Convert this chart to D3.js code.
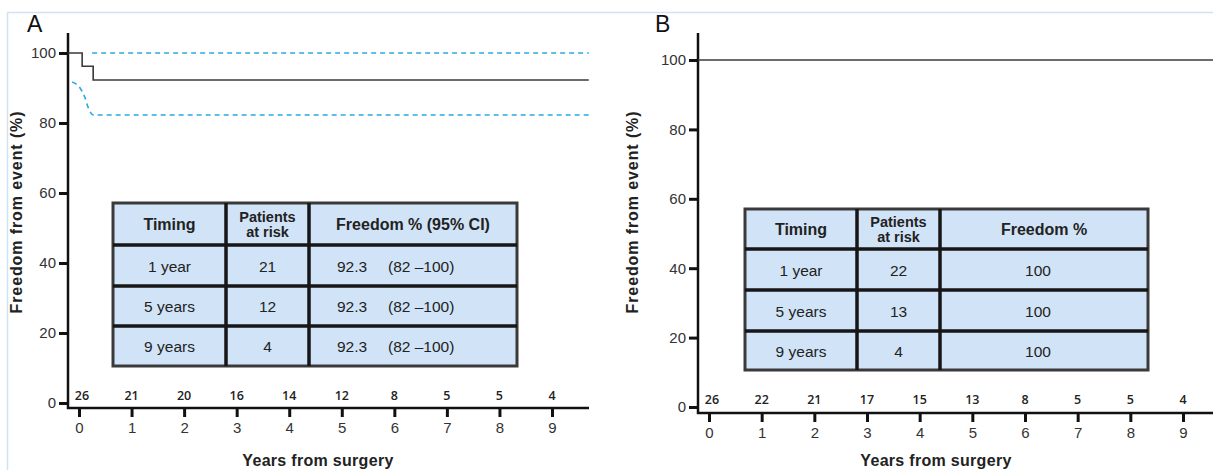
<!DOCTYPE html>
<html lang="en">
<head>
<meta charset="UTF-8">
<title>Freedom from event</title>
<script src="https://cdn.jsdelivr.net/npm/d3@7/dist/d3.min.js"></script>
<style>
    body { margin: 0; background: #fff; }
    svg { display: block; font-family: "Liberation Sans", Arial, sans-serif; }
    .tick text { fill: #333; font-size: 15px; }
    .risk { font-family: "Open Sans", sans-serif; font-size: 12.5px; font-weight: 600; fill: #222; }
    .ttl { font-weight: bold; font-size: 16px; fill: #222; }
    .cell { font-size: 15.5px; fill: #222; }
    .head { font-size: 16px; font-weight: bold; fill: #222; }
    .head2 { font-size: 14.5px; font-weight: bold; fill: #222; }
</style>
</head>
<body>
<svg id="chart" width="1213" height="470"></svg>
<script>
// ---- data ----
const years = [0, 1, 2, 3, 4, 5, 6, 7, 8, 9]
const yTicks = [0, 20, 40, 60, 80, 100]
const atRiskA = [26, 21, 20, 16, 14, 12, 8, 5, 5, 4]
const atRiskB = [26, 22, 21, 17, 15, 13, 8, 5, 5, 4]

// panel A: Kaplan-Meier estimate and 95% CI
const kmA = [[-0.21, 100], [0.06, 96.2], [0.27, 92.3], [9.7, 92.3]]
const upperA = [[0.25, 100], [9.7, 100]]
const lowerA = [[-0.13, 91.7], [0.02, 90], [0.11, 87.4], [0.17, 84.6], [0.27, 82.3], [9.7, 82.3]]
// panel B
const kmB = [[-0.21, 100], [9.8, 100]]

const headA = [["Timing"], ["Patients", "at risk"], ["Freedom % (95% CI)"]]
const headB = [["Timing"], ["Patients", "at risk"], ["Freedom %"]]
const timing = ["1 year", "5 years", "9 years"]
const riskTabA = [21, 12, 4]
const freeA = ["92.3", "92.3", "92.3"]
const ciA = ["(82 \u2013100)", "(82 \u2013100)", "(82 \u2013100)"]
const riskTabB = [22, 13, 4]
const freeB = ["100", "100", "100"]

const svg = d3.select('#chart')

// light frame round the figure
svg.append('path')
    .attr('d', 'M7.5,470 V12.5 H1213')
    .attr('fill', 'none')
    .attr('stroke', '#cfe2f6')
    .attr('stroke-width', 1.5)

const drawPanel = (p) => {
    const g = svg.append('g')
    const x = d3.scaleLinear().domain([0, 9]).range([p.x0, p.x9])
    const y = d3.scaleLinear().domain([0, 100]).range([p.y0, p.y100])

    // panel letter
    g.append('text').attr('x', p.letterX).attr('y', 32)
        .attr('font-size', 23).attr('fill', '#111').text(p.letter)

    // y axis ticks + labels
    const ya = g.append('g')
        .attr('transform', `translate(${p.axisX},0)`)
        .call(d3.axisLeft(y).tickValues(yTicks).tickSize(9).tickPadding(3))
    ya.select('.domain').remove()
    ya.selectAll('.tick line').attr('stroke', '#111').attr('stroke-width', 3)

    // x axis ticks + labels
    const xa = g.append('g')
        .attr('transform', `translate(0,${p.axisY})`)
        .call(d3.axisBottom(x).tickValues(years).tickSize(9).tickPadding(5))
    xa.select('.domain').remove()
    xa.selectAll('.tick line').attr('stroke', '#111').attr('stroke-width', 3)

    // axis lines
    g.append('path')
        .attr('d', `M${p.axisX},33 V${p.axisY} H${p.xEnd}`)
        .attr('fill', 'none').attr('stroke', '#111').attr('stroke-width', 2.5)

    // patients at risk
    g.selectAll('.risk').data(p.risk).enter()
        .append('text').attr('class', 'risk')
        .attr('x', (d, i) => x(years[i]) + (i === 0 ? 3 : 0))
        .attr('y', p.riskY)
        .attr('text-anchor', 'middle')
        .text(d => d)

    // curves
    const line = d3.line().x(d => x(d[0])).y(d => y(d[1]))
    if (p.lower) {
        g.append('path').datum(p.upper)
            .attr('d', line).attr('fill', 'none')
            .attr('stroke', '#2aa9e3').attr('stroke-width', 1.6).attr('stroke-dasharray', '5,4')
        g.append('path').datum(p.lower)
            .attr('d', line.curve(d3.curveMonotoneX)).attr('fill', 'none')
            .attr('stroke', '#2aa9e3').attr('stroke-width', 1.6).attr('stroke-dasharray', '5,4')
    }
    g.append('path').datum(p.km)
        .attr('d', d3.line().x(d => x(d[0])).y(d => y(d[1])).curve(d3.curveStepAfter))
        .attr('fill', 'none').attr('stroke', '#3a3a3a').attr('stroke-width', 1.6)

    // axis titles
    g.append('text').attr('class', 'ttl')
        .attr('transform', `translate(${p.yTitleX},212) rotate(-90)`)
        .attr('letter-spacing', 0.9)
        .attr('text-anchor', 'middle').text('Freedom from event (%)')
    g.append('text').attr('class', 'ttl')
        .attr('x', p.xTitleX).attr('y', 466)
        .attr('letter-spacing', 0.3)
        .attr('text-anchor', 'middle').text('Years from surgery')

    // table
    const t = p.table
    const colX = [t.left, t.c1, t.c2, t.right]
    const rowY = [t.top, t.r1, t.r2, t.r3, t.bottom]
    g.append('rect')
        .attr('x', t.left).attr('y', t.top)
        .attr('width', t.right - t.left).attr('height', t.bottom - t.top)
        .attr('fill', '#d1e4f7').attr('stroke', '#3a3a3a').attr('stroke-width', 3)
    colX.slice(1, 3).forEach(cx => g.append('line')
        .attr('x1', cx).attr('x2', cx).attr('y1', t.top).attr('y2', t.bottom)
        .attr('stroke', '#161616').attr('stroke-width', 3.5))
    rowY.slice(1, 4).forEach(ry => g.append('line')
        .attr('x1', t.left).attr('x2', t.right).attr('y1', ry).attr('y2', ry)
        .attr('stroke', '#161616').attr('stroke-width', 3.5))

    const mid = i => (colX[i] + colX[i + 1]) / 2
    p.head.forEach((lines, i) => {
        const cy = (rowY[0] + rowY[1]) / 2
        lines.forEach((s, k) => g.append('text')
            .attr('class', lines.length > 1 ? 'head2' : 'head')
            .attr('x', mid(i)).attr('y', cy + 5.5 + (k - (lines.length - 1) / 2) * 15)
            .attr('text-anchor', 'middle').text(s))
    })
    timing.forEach((s, r) => {
        const cy = (rowY[r + 1] + rowY[r + 2]) / 2 + 6
        g.append('text').attr('class', 'cell').attr('x', mid(0)).attr('y', cy)
            .attr('text-anchor', 'middle').text(s)
        g.append('text').attr('class', 'cell').attr('x', mid(1)).attr('y', cy)
            .attr('text-anchor', 'middle').text(p.riskTab[r])
        if (p.ci) {
            g.append('text').attr('class', 'cell').attr('x', colX[2] + 28).attr('y', cy).text(p.free[r])
            g.append('text').attr('class', 'cell').attr('x', colX[2] + 79).attr('y', cy).text(p.ci[r])
        } else {
            g.append('text').attr('class', 'cell').attr('x', mid(2) - 6).attr('y', cy)
                .attr('text-anchor', 'middle').text(p.free[r])
        }
    })
}

drawPanel({
    letter: 'A', letterX: 27,
    x0: 79, x9: 552, y0: 403, y100: 53,
    axisX: 68, axisY: 408, xEnd: 589,
    riskY: 400, risk: atRiskA,
    km: kmA, upper: upperA, lower: lowerA,
    yTitleX: 22, xTitleX: 318,
    head: headA, riskTab: riskTabA, free: freeA, ci: ciA,
    table: { left: 113, c1: 226, c2: 309, right: 517, top: 203, r1: 245, r2: 286, r3: 326, bottom: 366 }
})

drawPanel({
    letter: 'B', letterX: 655,
    x0: 709, x9: 1183, y0: 407, y100: 60,
    axisX: 698, axisY: 413, xEnd: 1213,
    riskY: 404, risk: atRiskB,
    km: kmB,
    yTitleX: 638, xTitleX: 936,
    head: headB, riskTab: riskTabB, free: freeB,
    table: { left: 745, c1: 857, c2: 940, right: 1148, top: 209, r1: 249, r2: 290, r3: 331, bottom: 370 }
})
</script>
</body>
</html>
